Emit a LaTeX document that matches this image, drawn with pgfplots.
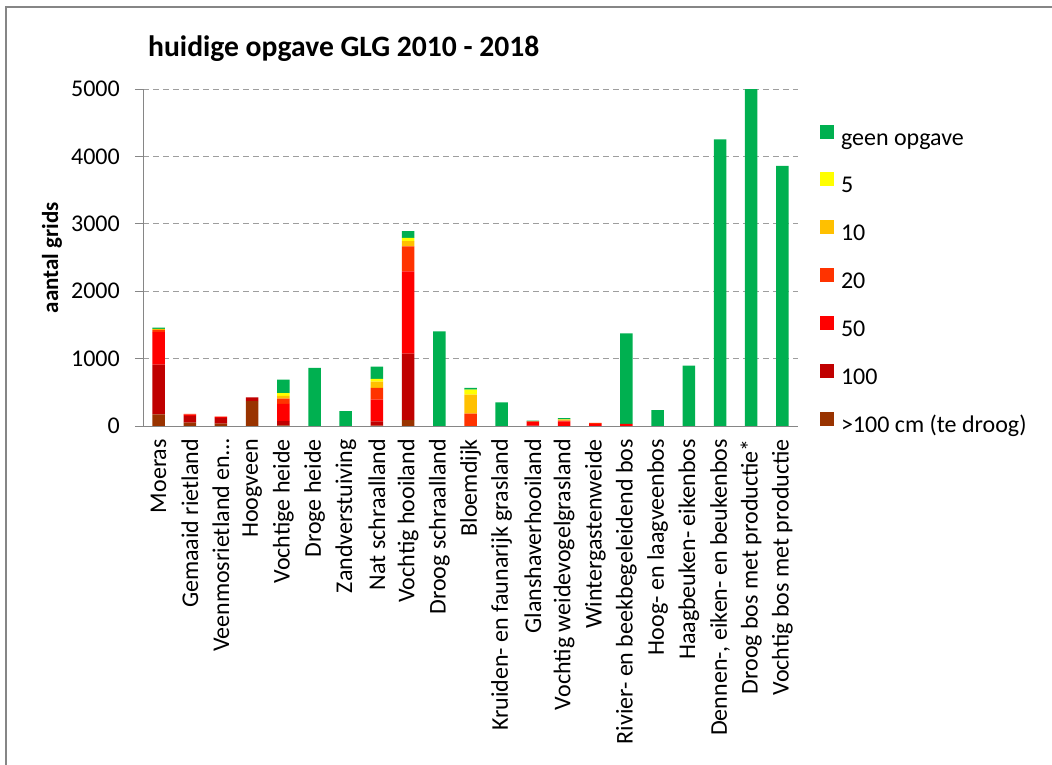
\documentclass[border=0pt]{standalone}
\usepackage{pgfplots}
\pgfplotsset{compat=1.18}
\usepackage{pgfplotstable}
\usepackage{fontspec}
\setmainfont{Carlito}
\definecolor{cgreen}{HTML}{00B050}
\definecolor{cyellow}{HTML}{FFFF00}
\definecolor{corange}{HTML}{FFC000}
\definecolor{cored}{HTML}{FF3300}
\definecolor{cred}{HTML}{FF0000}
\definecolor{cdred}{HTML}{C00000}
\definecolor{cbrown}{HTML}{993300}
\definecolor{axgray}{HTML}{868686}
\pgfplotstableread{
idx brown r100 r50 r20 r10 r5 green
0 174 736 481 35 10 5 20
1 50 100 20 10 0 0 0
2 35 85 15 5 0 0 0
3 370 55 0 0 0 0 0
4 10 64 255 79 40 40 200
5 0 0 0 0 0 0 861
6 0 0 0 0 0 0 222
7 5 64 321 176 94 40 180
8 89 984 1220 371 79 49 100
9 0 0 0 0 0 0 1405
10 0 0 0 185 280 74 25
11 0 0 0 0 0 0 351
12 0 5 55 10 0 0 10
13 0 0 70 10 15 5 15
14 0 0 30 15 0 0 0
15 0 0 30 0 0 0 1345
16 0 0 0 0 0 0 237
17 0 0 0 0 0 0 895
18 0 0 0 0 0 0 4254
19 0 0 0 0 0 0 5000
20 0 0 0 0 0 0 3858
}\datatable
\begin{document}
\begin{tikzpicture}
\path[use as bounding box] (0,0) rectangle (1052bp,765bp);
\draw[axgray, line width=2bp] (6bp,0) -- (6bp,758bp) -- (1052bp,758bp);
\node[anchor=base west, inner sep=0pt, font=\fontsize{29.6bp}{33bp}\selectfont\bfseries] at (148bp,708bp) {huidige opgave GLG 2010 - 2018};
\begin{axis}[
  at={(143bp,339bp)}, anchor=south west,
  scale only axis, width=655bp, height=337bp,
  ybar stacked, bar width=12.5bp,
  xmin=-0.5, xmax=20.5, ymin=0, ymax=5000,
  axis x line*=bottom, axis y line*=left,
  axis line style={axgray, line width=1bp},
  xtick=data,
  xticklabels={Moeras, Gemaaid rietland, Veenmosrietland en…, Hoogveen, Vochtige heide, Droge heide, Zandverstuiving, Nat schraalland, Vochtig hooiland, Droog schraalland, Bloemdijk, Kruiden- en faunarijk grasland, Glanshaverhooiland, Vochtig weidevogelgrasland, Wintergastenweide, Rivier- en beekbegeleidend bos, Hoog- en laagveenbos, Haagbeuken- eikenbos, {Dennen-, eiken- en beukenbos}, Droog bos met productie*, Vochtig bos met productie},
  x tick style={draw=none},
  minor xtick={-0.5,0.5,...,20.5},
  minor x tick style={axgray, line width=1bp},
  minor tick length=7bp,
  xticklabel style={font=\fontsize{24bp}{28bp}\selectfont, yshift=-5bp, rotate=90, anchor=east, inner sep=0pt},
  xtick pos=bottom,
  ytick={0,1000,...,5000},
  y tick style={axgray, line width=1bp},
  major tick length=8bp,
  tick align=outside,
  ytick pos=left,
  /pgf/number format/assume math mode=true,
  /pgf/number format/1000 sep={},
  yticklabel style={font=\fontsize{24bp}{28bp}\selectfont, anchor=east, inner sep=0pt, xshift=-15bp},
  ymajorgrids,
  grid style={axgray!80, line width=1bp, dash pattern=on 6bp off 4bp},
  ylabel={aantal grids},
  every axis y label/.style={at={(axis description cs:-0.139,0.5)}, rotate=90, anchor=center, font=\fontsize{23bp}{26bp}\selectfont\bfseries},
  reverse legend,
  legend cell align=left,
  legend image code/.code={\fill[#1] (0bp,0.5bp) rectangle (14bp,14.5bp);},
  legend style={at={(1.0336,0.8944)}, anchor=north west, draw=none, fill=none, inner sep=0pt, outer sep=0pt,
    font=\fontsize{24bp}{28bp}\selectfont, row sep=22.4bp, column sep=7bp,
    nodes={inner sep=0pt, text height=17bp, text depth=5bp}},
]
\addplot[fill=cbrown, draw=none] table[x=idx, y=brown] {\datatable};
\addlegendentry{>100 cm (te droog)}
\addplot[fill=cdred, draw=none] table[x=idx, y=r100] {\datatable};
\addlegendentry{100}
\addplot[fill=cred, draw=none] table[x=idx, y=r50] {\datatable};
\addlegendentry{50}
\addplot[fill=cored, draw=none] table[x=idx, y=r20] {\datatable};
\addlegendentry{20}
\addplot[fill=corange, draw=none] table[x=idx, y=r10] {\datatable};
\addlegendentry{10}
\addplot[fill=cyellow, draw=none] table[x=idx, y=r5] {\datatable};
\addlegendentry{5}
\addplot[fill=cgreen, draw=none] table[x=idx, y=green] {\datatable};
\addlegendentry{geen opgave}
\end{axis}
\end{tikzpicture}
\end{document}
